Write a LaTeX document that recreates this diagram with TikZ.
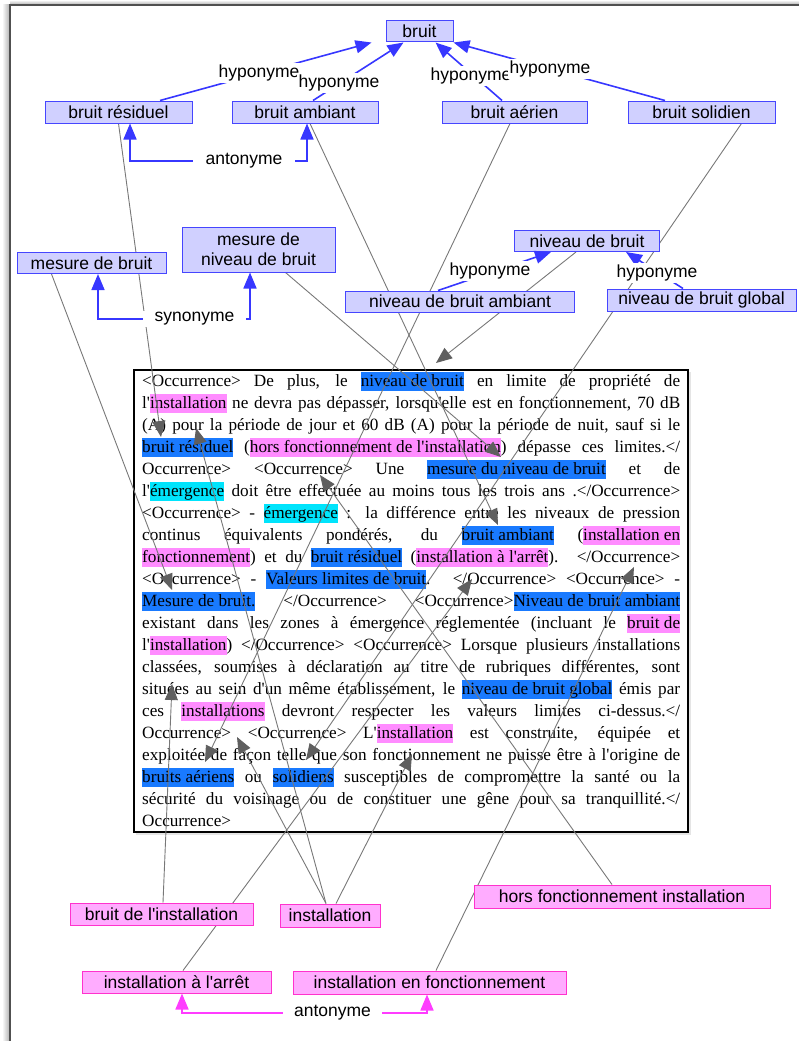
\documentclass[tikz,border=0pt]{standalone}
\usepackage{fontspec}
\setmainfont{Liberation Serif}[Ligatures=TeXOff]
\setsansfont{Liberation Sans}[Ligatures=TeXOff]
\usetikzlibrary{arrows.meta,calc}
\definecolor{bfill}{RGB}{208,208,255}
\definecolor{bline}{RGB}{70,70,255}
\definecolor{bedgec}{RGB}{55,55,255}
\definecolor{pfill}{RGB}{255,172,255}
\definecolor{pline}{RGB}{255,50,205}
\definecolor{pedgec}{RGB}{255,60,255}
\definecolor{hlb}{RGB}{25,122,255}
\definecolor{hlp}{RGB}{255,140,255}
\definecolor{hlc}{RGB}{0,228,252}
\definecolor{gline}{RGB}{120,120,120}
\definecolor{garrow}{RGB}{95,95,95}
\definecolor{framec}{RGB}{80,80,80}
\pgfdeclarelayer{back}
\pgfdeclarelayer{mid}
\pgfsetlayers{back,mid,main}
\newcommand{\hlstrut}{\rule[-5pt]{0pt}{19pt}}
\newcommand{\hb}[1]{{\setlength{\fboxsep}{0pt}\colorbox{hlb}{\hlstrut#1}}}
\newcommand{\hp}[1]{{\setlength{\fboxsep}{0pt}\colorbox{hlp}{\hlstrut#1}}}
\newcommand{\hc}[1]{{\setlength{\fboxsep}{0pt}\colorbox{hlc}{\hlstrut#1}}}
\newcommand{\jl}[1]{\makebox[538pt][s]{#1}}
\tikzset{
  term/.style={draw, line width=1pt, inner sep=0pt, align=center,
    font=\sffamily\fontsize{17.5}{20}\selectfont},
  bterm/.style={term, draw=bline, fill=bfill},
  pterm/.style={term, draw=pline, fill=pfill},
  tline/.style={anchor=base west, inner sep=0pt,
    font=\fontsize{17.2}{22}\selectfont},
  lbl/.style={fill=white, inner sep=1.5pt, font=\sffamily\fontsize{17.5}{20}\selectfont},
  bedge/.style={draw=bedgec, line width=1.6pt, -{Triangle[length=16pt,width=13pt]}},
  bback/.style={draw=bedgec, line width=1.6pt, {Triangle[length=16pt,width=13pt]}-},
  pback/.style={draw=pedgec, line width=1.6pt, {Triangle[length=16pt,width=13pt]}-},
  gl/.style={draw=gline, line width=0.9pt, -{Triangle[length=16pt,width=13pt,color=garrow]}},
}
\begin{document}
\begin{tikzpicture}[x=1pt,y=-1pt]
\useasboundingbox (0,0) rectangle (799,1041);

% ---------- terms ----------
\node[bterm, minimum width=67pt, minimum height=21pt] (bruit) at (419.5,31.5) {bruit};
\node[bterm, minimum width=147pt, minimum height=22pt] (bres) at (118.5,112) {bruit résiduel};
\node[bterm, minimum width=146pt, minimum height=22pt] (bamb) at (305,112) {bruit ambiant};
\node[bterm, minimum width=145pt, minimum height=22pt] (baer) at (514.5,112) {bruit aérien};
\node[bterm, minimum width=147pt, minimum height=22pt] (bsol) at (701.5,112) {bruit solidien};
\node[bterm, minimum width=149pt, minimum height=21pt] (mdb) at (91.5,263) {mesure de bruit};
\node[bterm, minimum width=153pt, minimum height=45pt] (mndb) at (258.5,249.5) {mesure de\\niveau de bruit};
\node[bterm, minimum width=145pt, minimum height=21pt] (ndb) at (587,241) {niveau de bruit};
\node[bterm, minimum width=229pt, minimum height=21pt] (ndba) at (460,301.5) {niveau de bruit ambiant};
\node[bterm, minimum width=189pt, minimum height=22pt] (ndbg) at (701.5,300) {niveau de bruit global};

\node[pterm, minimum width=183pt, minimum height=22pt] (bdi) at (161.5,914) {bruit de l'installation};
\node[pterm, minimum width=100pt, minimum height=23pt] (inst) at (330,915.5) {installation};
\node[pterm, minimum width=296pt, minimum height=23pt] (hfi) at (622,896.5) {hors fonctionnement installation};
\node[pterm, minimum width=189pt, minimum height=22pt] (iaa) at (176.5,982) {installation à l'arrêt};
\node[pterm, minimum width=273pt, minimum height=23pt] (ief) at (429.5,982.5) {installation en fonctionnement};

% ---------- frame, text ----------
\begin{pgfonlayer}{back}
\fill[left color=white, right color=black!30] (2,5) rectangle (9.5,1041);
\fill[top color=white, bottom color=black!30] (10,0) rectangle (799,4.5);
\draw[framec, line width=2pt] (10,1041) -- (10,5) -- (799,5);
\fill[black!10] (136,372) rectangle (691,835);
\node[draw=black, line width=1.3pt, fill=white, minimum width=554pt, minimum height=462pt, inner sep=0pt] (tbox) at (411,601) {};
\node[tline] (t1) at (142,386) {\jl{<Occurrence> De plus, le \hb{niveau de bruit} en limite de propriété de}};
\node[tline] (t2) at (142,408) {\jl{l'\hp{installation} ne devra pas dépasser, lorsqu'elle est en fonctionnement, 70 dB}};
\node[tline] (t3) at (142,430) {\jl{(A) pour la période de jour et 60 dB (A) pour la période de nuit, sauf si le}};
\node[tline] (t4) at (142,452) {\jl{\hb{bruit résiduel} (\hp{hors fonctionnement de l'installation}) dépasse ces limites.</}};
\node[tline] (t5) at (142,474) {\jl{Occurrence> <Occurrence> Une \hb{mesure du niveau de bruit} et de}};
\node[tline] (t6) at (142,496) {\jl{l'\hc{émergence} doit être effectuée au moins tous les trois ans .</Occurrence>}};
\node[tline] (t7) at (142,518) {\jl{<Occurrence> - \hc{émergence} : la différence entre les niveaux de pression}};
\node[tline] (t8) at (142,540) {\jl{continus équivalents pondérés, du \hb{bruit ambiant} (\hp{installation en}}};
\node[tline] (t9) at (142,562) {\jl{\hp{fonctionnement}) et du \hb{bruit résiduel} (\hp{installation à l'arrêt}). </Occurrence>}};
\node[tline] (t10) at (142,584) {\jl{<Occurrence> - \hb{Valeurs limites de bruit}. </Occurrence> <Occurrence> -}};
\node[tline] (t11) at (142,606) {\jl{\hb{Mesure de bruit.} </Occurrence> <Occurrence>\hb{Niveau de bruit ambiant}}};
\node[tline] (t12) at (142,628) {\jl{existant dans les zones à émergence réglementée (incluant le \hp{bruit de}}};
\node[tline] (t13) at (142,650) {\jl{l'\hp{installation}) </Occurrence> <Occurrence> Lorsque plusieurs installations}};
\node[tline] (t14) at (142,672) {\jl{classées, soumises à déclaration au titre de rubriques différentes, sont}};
\node[tline] (t15) at (142,694) {\jl{situées au sein d'un même établissement, le \hb{niveau de bruit global} émis par}};
\node[tline] (t16) at (142,716) {\jl{ces \hp{installations} devront respecter les valeurs limites ci-dessus.</}};
\node[tline] (t17) at (142,738) {\jl{Occurrence> <Occurrence> L'\hp{installation} est construite, équipée et}};
\node[tline] (t18) at (142,760) {\jl{exploitée de façon telle que son fonctionnement ne puisse être à l'origine de}};
\node[tline] (t19) at (142,782) {\jl{\hb{bruits aériens} ou \hb{solidiens} susceptibles de compromettre la santé ou la}};
\node[tline] (t20) at (142,804) {\jl{sécurité du voisinage ou de constituer une gêne pour sa tranquillité.</}};
\node[tline] (t21) at (142,826) {Occurrence>};
\end{pgfonlayer}

% ---------- occurrence links ----------
\coordinate (o-mdb) at (172,590);
\coordinate (o-bres) at (161,437);
\coordinate (o-bamb) at (498,525);
\coordinate (o-baer) at (205,762);
\coordinate (o-bsol) at (306,760);
\coordinate (o-mndb) at (501,457);
\coordinate (o-ndb) at (436,363);
\coordinate (o-bdi) at (172,684);
\coordinate (o-inst1) at (237,737);
\coordinate (o-inst2) at (196,428);
\coordinate (o-inst3) at (412,754);
\coordinate (o-iaa) at (472,579);
\coordinate (o-ief) at (634,567);
\coordinate (o-hfi) at (320,475);
\begin{pgfonlayer}{mid}
\draw[gl] ([xshift=-40pt]mdb.south) -- (o-mdb);
\draw[gl] (bres.south) -- (o-bres);
\draw[gl] ([xshift=5pt]bamb.south) -- (o-bamb);
\draw[gl] ([xshift=-4.5pt]baer.south) -- (o-baer);
\draw[gl] ([xshift=40pt]bsol.south) -- (o-bsol);
\draw[gl] ([xshift=27pt]mndb.south) -- (o-mndb);
\draw[gl] ([xshift=-11pt]ndb.south) -- (o-ndb);
\draw[gl] ([xshift=1.5pt]bdi.north) -- (o-bdi);
\draw[gl] ([xshift=-4pt]inst.north) -- (o-inst1);
\draw[gl] ([xshift=-4pt]inst.north) -- (o-inst2);
\draw[gl] ([xshift=6pt]inst.north) -- (o-inst3);
\draw[gl] ([xshift=6.5pt]iaa.north) -- (o-iaa);
\draw[gl] ([xshift=6.5pt]ief.north) -- (o-ief);
\draw[gl] ([xshift=-10pt]hfi.north) -- (o-hfi);
\end{pgfonlayer}

% ---------- relations ----------
\draw[bedge] ([xshift=41.5pt]bres.north) -- ([xshift=-48pt]bruit.south);
\draw[bedge] ([xshift=8pt]bamb.north) -- ([xshift=-16pt]bruit.south);
\draw[bedge] ([xshift=-12.5pt]baer.north) -- ([xshift=16pt]bruit.south);
\draw[bedge] ([xshift=-36.5pt]bsol.north) -- (bruit.south east);
\node[lbl] (h1) at (259,73) {hyponyme};
\node[lbl] (h2) at (339,83) {hyponyme};
\node[lbl] (h3) at (471,76) {hyponyme};
\node[lbl] (h4) at (550,69) {hyponyme};

\node[lbl, minimum width=102pt] (a1) at (244,161) {antonyme};
\draw[bback] ([xshift=11.5pt]bres.south) |- (a1.west);
\draw[bback] ([xshift=2pt]bamb.south) |- (a1.east);

\draw[bedge] ([xshift=-22pt]ndba.north) -- ([xshift=-36pt]ndb.south);
\draw[bedge] ([xshift=-18.5pt]ndbg.north) -- ([xshift=39pt]ndb.south);
\node[lbl] (h5) at (490,271) {hyponyme};
\node[lbl] (h6) at (657,273) {hyponyme};

\node[lbl, minimum width=103pt] (s1) at (194.5,319) {synonyme};
\draw[bback] ([xshift=6.5pt]mdb.south) |- (s1.west);
\draw[bback] ([xshift=-8.5pt]mndb.south) |- (s1.east);

\node[lbl, minimum width=99pt] (a2) at (332.5,1013) {antonyme};
\draw[pback] ([xshift=5.5pt]iaa.south) |- (a2.west);
\draw[pback] ([xshift=-2.5pt]ief.south) |- (a2.east);
\end{tikzpicture}
\end{document}
